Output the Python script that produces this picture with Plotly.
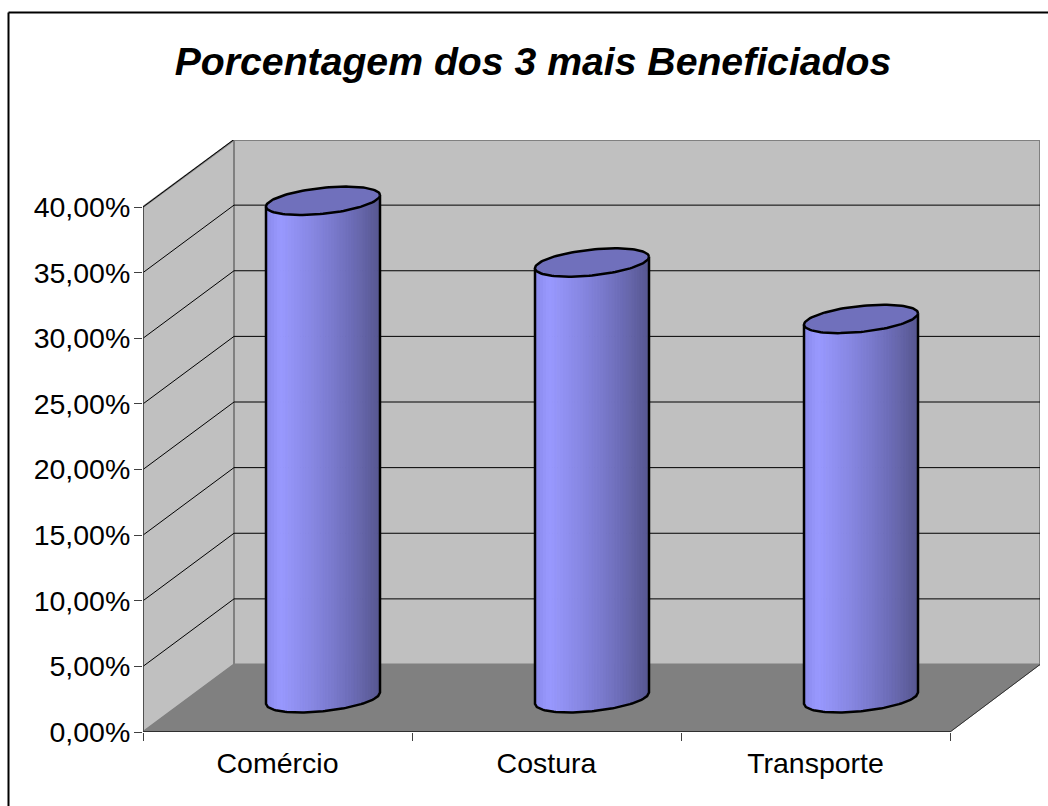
import plotly.graph_objects as go
import numpy as np

# ---- data ----
categories = ["Comércio", "Costura", "Transporte"]
values = [37.9, 33.2, 28.9]
y_ticks = [0, 5, 10, 15, 20, 25, 30, 35, 40]
y_labels = ["0,00%", "5,00%", "10,00%", "15,00%", "20,00%", "25,00%", "30,00%", "35,00%", "40,00%"]
title_text = "Porcentagem dos 3 mais Beneficiados"

# ---- layout constants (pixels) ----
W, H = 1048, 806
L, R, T, B = 143, 1040, 140, 732
CAT_PX = 269.0
VAL_PX = 13.125
FONT = "Liberation Sans, Arial, sans-serif"

DX = 91 / CAT_PX        # oblique depth in x units
DY = 67.5 / VAL_PX      # oblique depth in y units
XMIN = -0.5
XFRONT = 2.5
XMAX = XMIN + (R - L) / CAT_PX
YMAX = (B - T) / VAL_PX

RX = 57 / CAT_PX        # cylinder radius
RY = 13 / VAL_PX        # ellipse half height
SKEW = 5.7 / VAL_PX     # ellipse tilt (right side higher)


def lerp_color(f):
    stops = [(0.0, (138, 138, 235)), (0.12, (153, 153, 255)), (0.45, (132, 132, 222)),
             (0.75, (110, 110, 185)), (1.0, (88, 88, 146))]
    for (a, ca), (b, cb) in zip(stops, stops[1:]):
        if f <= b:
            u = (f - a) / (b - a)
            c = [round(p + (q - p) * u) for p, q in zip(ca, cb)]
            return f"rgb({c[0]},{c[1]},{c[2]})"
    return "rgb(88,88,146)"


fig = go.Figure()


def poly(xs, ys, fill=None, line=None, width=1):
    fig.add_trace(go.Scatter(
        x=xs, y=ys, mode="lines", cliponaxis=False,
        fill="toself" if fill else "none",
        fillcolor=fill,
        line=dict(color=line or fill, width=width),
        hoverinfo="skip", showlegend=False))


# walls and floor
poly([XMIN + DX, XMAX, XMAX, XMIN + DX, XMIN + DX], [DY, DY, YMAX, YMAX, DY], "#C0C0C0", "#808080", 2)
poly([XMIN, XMIN + DX, XMIN + DX, XMIN, XMIN], [0, DY, YMAX, 40, 0], "#C0C0C0", "#808080", 2)
poly([XMIN, XMIN + DX, XMAX, XFRONT, XMIN], [0, DY, DY, 0, 0], "#808080", "#808080", 1)

# gridlines
for v in y_ticks[1:]:
    poly([XMIN, XMIN + DX, XMAX], [v, v + DY, v + DY], None, "#000000", 1)

# axis lines
poly([XMIN, XMIN], [0, 40], None, "#404040", 1.5)
poly([XMIN, XFRONT], [0, 0], None, "#303030", 2)
poly([XFRONT, XMAX], [0, DY], None, "#303030", 1)


def ell_lower(xrel):
    """y offset on lower half of tilted ellipse for x offset from centre"""
    c = np.clip(xrel / RX, -1, 1)
    return -RY * np.sqrt(1 - c * c) + SKEW * c


# cylinders
for i, v in enumerate(values):
    cx = i + DX / 2
    base = DY / 2
    top = v + base
    edges = np.linspace(-RX, RX, 41)
    for j in range(len(edges) - 1):
        e = np.linspace(edges[j], edges[j + 1], 4)
        xs = np.concatenate([cx + e, cx + e[::-1], [cx + e[0]]])
        ys = np.concatenate([top + ell_lower(e), base + ell_lower(e[::-1]), [top + ell_lower(e[0])]])
        poly(xs.tolist(), ys.tolist(), lerp_color(j / 39))
    # outline of body
    t = np.linspace(-RX, RX, 61)
    xs = np.concatenate([[cx - RX], cx + t, [cx + RX]])
    ys = np.concatenate([[top + ell_lower(-RX)], base + ell_lower(t), [top + ell_lower(RX)]])
    poly(xs.tolist(), ys.tolist(), None, "#000000", 2.5)
    # top face
    th = np.linspace(0, 2 * np.pi, 121)
    poly((cx + RX * np.cos(th)).tolist(),
         (top + RY * np.sin(th) + SKEW * np.cos(th)).tolist(),
         "#7070BC", "#000000", 2.5)

fig.update_layout(
    width=W, height=H,
    margin=dict(l=L, r=W - R, t=T, b=H - B, pad=0),
    paper_bgcolor="#FFFFFF", plot_bgcolor="#FFFFFF",
    showlegend=False,
    font=dict(family=FONT, color="#000000"),
    title=dict(text=title_text, x=533 / W, xanchor="center", xref="container",
               y=1 - 61.5 / H, yanchor="middle", yref="container",
               font=dict(family=FONT, size=39.2, color="#000000", weight="bold", style="italic")),
    xaxis=dict(range=[XMIN, XMAX], showgrid=False, zeroline=False, showline=False,
               tickmode="array", tickvals=[0, 1, 2], ticktext=categories, ticks="",
               ticklabelstandoff=11,
               tickfont=dict(family=FONT, size=28.5, color="#000000"),
               minor=dict(tickmode="array", tickvals=[-0.5, 0.5, 1.5, 2.5], ticks="outside",
                          ticklen=8, tickwidth=1, tickcolor="#404040", showgrid=False)),
    yaxis=dict(range=[0, YMAX], showgrid=False, zeroline=False, showline=False,
               tickmode="array", tickvals=y_ticks, ticktext=y_labels, ticks="outside",
               ticklen=8, tickwidth=1, tickcolor="#404040", ticklabelstandoff=-2,
               tickfont=dict(family=FONT, size=28.5, color="#000000")),
    shapes=[
        dict(type="line", xref="paper", yref="paper", layer="above",
             x0=(8.5 - L) / (R - L), x1=(W + 5 - L) / (R - L),
             y0=(B - 12.5) / (B - T), y1=(B - 12.5) / (B - T),
             line=dict(color="#000000", width=2)),
        dict(type="line", xref="paper", yref="paper", layer="above",
             x0=(8.5 - L) / (R - L), x1=(8.5 - L) / (R - L),
             y0=(B - 12.5) / (B - T), y1=(B - H - 5) / (B - T),
             line=dict(color="#000000", width=2)),
    ],
)

fig.write_html("out.html", config={"displayModeBar": False},
               post_script="document.body.style.margin='0';document.documentElement.style.overflow='hidden';")
